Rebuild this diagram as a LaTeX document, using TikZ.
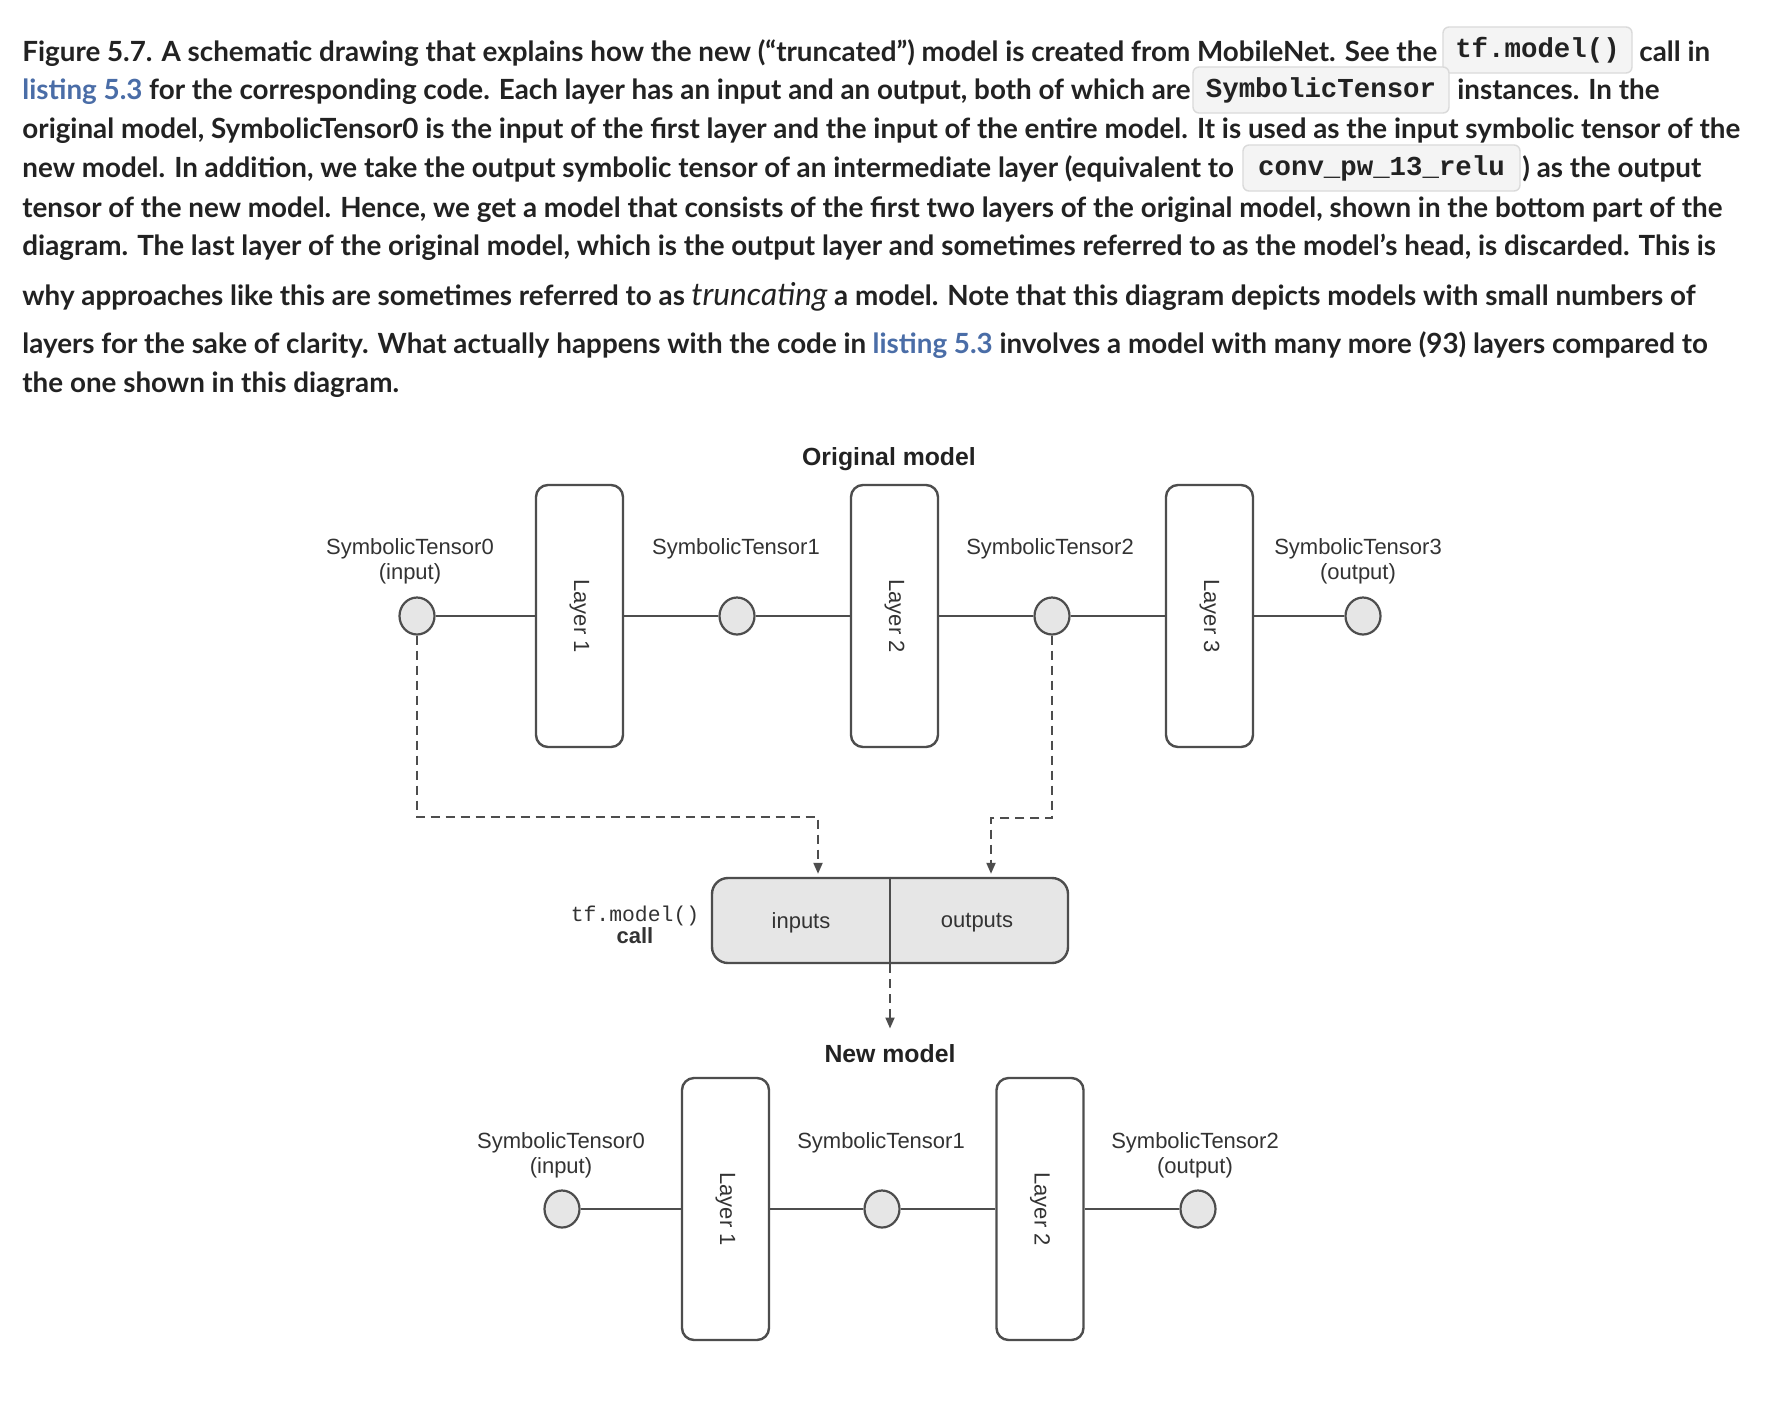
\documentclass[tikz,border=0pt]{standalone}
\usepackage{fontspec}
\setmainfont{Lato}
\newfontfamily\diafont{Liberation Sans}
\newfontfamily\codefont{Liberation Mono}
\usetikzlibrary{arrows.meta,shapes.geometric}
\definecolor{captxt}{HTML}{222222}
\definecolor{linkblue}{HTML}{4A6DA7}
\definecolor{ln}{HTML}{4D4D4D}
\definecolor{tfill}{HTML}{E6E6E6}
\definecolor{codebg}{HTML}{F4F4F4}
\definecolor{codeborder}{HTML}{DADADA}
\definecolor{dtxt}{HTML}{333333}
\begin{document}
\begin{tikzpicture}[x=0.5pt,y=-0.5pt,
  capline/.style={anchor=base west, inner sep=0pt, font=\fontsize{13.9}{16}\selectfont\bfseries, text=captxt},
  codebox/.style={draw=codeborder, fill=codebg, rounded corners=3pt, line width=0.7pt, minimum height=23pt, inner sep=0pt, font=\codefont\fontsize{13.7}{16}\selectfont\bfseries, text=captxt},
  layerbox/.style={draw=ln, fill=white, line width=1.2pt, rounded corners=6pt, minimum width=43.5pt, minimum height=131pt, inner sep=0pt, font=\diafont\fontsize{11}{13}\selectfont, text=dtxt},
  tensor/.style={ellipse, draw=ln, fill=tfill, line width=1.1pt, minimum width=17.5pt, minimum height=18.5pt, inner sep=0pt},
  lbl/.style={anchor=north, align=center, inner sep=0pt, font=\diafont\fontsize{11}{12.5}\selectfont, text=dtxt},
  ttl/.style={inner sep=0pt, font=\diafont\bfseries\fontsize{12.4}{14}\selectfont, text=captxt},
  conn/.style={draw=ln, line width=1.1pt},
  dasharr/.style={draw=ln, line width=1pt, dash pattern=on 4.5pt off 3pt, -{Triangle[length=5.5pt,width=4.5pt]}},
  callbox/.style={draw=ln, fill=tfill, line width=1.2pt, rounded corners=8pt, minimum width=178pt, minimum height=42.5pt, inner sep=0pt},
  ctext/.style={inner sep=0pt, font=\diafont\fontsize{11}{13}\selectfont, text=dtxt}
]
\useasboundingbox (0,0) rectangle (1768,1426);
\fill[white] (0,0) rectangle (1768,1426);

% ---------------- caption ----------------
\node[capline] (cap1) at (22,61) {Figure 5.7. A schematic drawing that explains how the new (“truncated”) model is created from MobileNet. See the};
\node[codebox, minimum width=94.5pt] (code1) at (1537.5,50) {tf.model()};
\node[capline] (cap1b) at (1639,61) {call in};

\node[capline] (cap2) at (22,99) {{\color{linkblue}listing 5.3} for the corresponding code. Each layer has an input and an output, both of which are};
\node[codebox, minimum width=128pt] (code2) at (1321,90) {SymbolicTensor};
\node[capline] (cap2b) at (1457,99) {instances. In the};

\node[capline] (cap3) at (22,138) {original model, SymbolicTensor0 is the input of the first layer and the input of the entire model. It is used as the input symbolic tensor of the};

\node[capline] (cap4) at (22,177) {new model. In addition, we take the output symbolic tensor of an intermediate layer (equivalent to};
\node[codebox, minimum width=138.5pt] (code3) at (1381.5,168) {conv\_pw\_13\_relu};
\node[capline] (cap4b) at (1522,177) {) as the output};

\node[capline] (cap5) at (22,217) {tensor of the new model. Hence, we get a model that consists of the first two layers of the original model, shown in the bottom part of the};
\node[capline] (cap6) at (22,255) {diagram. The last layer of the original model, which is the output layer and sometimes referred to as the model’s head, is discarded. This is};
\node[capline] (cap7) at (22,305) {why approaches like this are sometimes referred to as {\mdseries\itshape\fontsize{15.8}{16}\selectfont truncating} a model. Note that this diagram depicts models with small numbers of};
\node[capline] (cap8) at (22,353) {layers for the sake of clarity. What actually happens with the code in {\color{linkblue}listing 5.3} involves a model with many more (93) layers compared to};
\node[capline] (cap9) at (22,392) {the one shown in this diagram.};

% ---------------- original model ----------------
\node[ttl] (origt) at (889,459) {Original model};

\node[tensor] (c0) at (417,616) {};
\node[tensor] (c1) at (737,616) {};
\node[tensor] (c2) at (1052,616) {};
\node[tensor] (c3) at (1363,616) {};
\node[layerbox] (L1) at (579.5,616) {\rotatebox{-90}{Layer 1}};
\node[layerbox] (L2) at (894.5,616) {\rotatebox{-90}{Layer 2}};
\node[layerbox] (L3) at (1209.5,616) {\rotatebox{-90}{Layer 3}};

\node[lbl] (t0l) at (410,538) {SymbolicTensor0\\(input)};
\node[lbl] (t1l) at (736,538) {SymbolicTensor1};
\node[lbl] (t2l) at (1050,538) {SymbolicTensor2};
\node[lbl] (t3l) at (1358,538) {SymbolicTensor3\\(output)};

\draw[conn] (c0) -- (L1);
\draw[conn] (L1) -- (c1);
\draw[conn] (c1) -- (L2);
\draw[conn] (L2) -- (c2);
\draw[conn] (c2) -- (L3);
\draw[conn] (L3) -- (c3);

% ---------------- tf.model() call ----------------
\node[callbox] (call) at (890,920.5) {};
\draw[conn, line width=1.2pt] (call.north) -- (call.south);
\node[ctext] (inp) at (801,923) {inputs};
\node[ctext] (outp) at (977,923) {outputs};
\node[align=center, inner sep=0pt, text=dtxt] (calll) at (635,925)
  {{\codefont\fontsize{10.7}{11.5}\selectfont tf.model()}\\[-1pt]{\diafont\bfseries\fontsize{11}{11.5}\selectfont call}};

\coordinate (j0) at (818,817);
\coordinate (j2) at (991,818);
\draw[dasharr, shorten >=1.5pt] (c0.south) |- (j0) -- (j0 |- call.north);
\draw[dasharr, shorten >=1.5pt] (c2.south) |- (j2) -- (j2 |- call.north);

\node[ttl] (newt) at (890,1054) {New model};
\draw[dasharr, shorten >=8pt] (call.south) -- (newt.north);

% ---------------- new model ----------------
\node[tensor] (n0) at (562,1209) {};
\node[tensor] (n1) at (882,1209) {};
\node[tensor] (n2) at (1198,1209) {};
\node[layerbox] (M1) at (725.5,1209) {\rotatebox{-90}{Layer 1}};
\node[layerbox] (M2) at (1040,1209) {\rotatebox{-90}{Layer 2}};

\node[lbl] (n0l) at (561,1132) {SymbolicTensor0\\(input)};
\node[lbl] (n1l) at (881,1132) {SymbolicTensor1};
\node[lbl] (n2l) at (1195,1132) {SymbolicTensor2\\(output)};

\draw[conn] (n0) -- (M1);
\draw[conn] (M1) -- (n1);
\draw[conn] (n1) -- (M2);
\draw[conn] (M2) -- (n2);
\end{tikzpicture}
\end{document}
